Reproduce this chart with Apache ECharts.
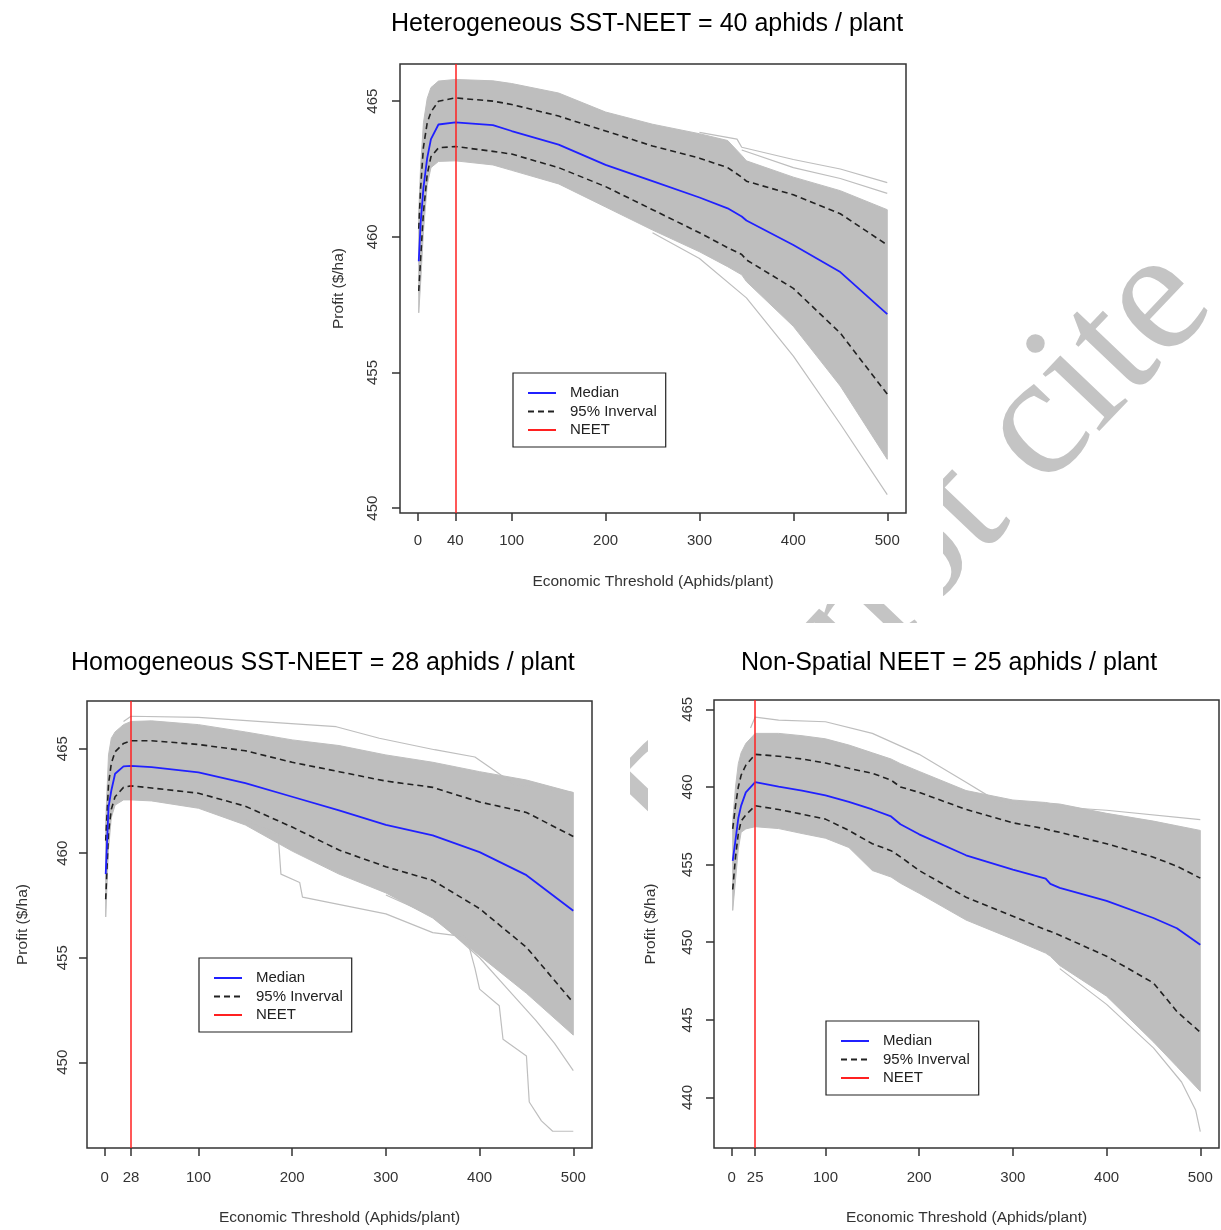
<!DOCTYPE html>
<html><head><meta charset="utf-8">
<script src="https://cdn.jsdelivr.net/npm/echarts@6/dist/echarts.min.js"></script>
<style>html,body{margin:0;padding:0;background:#fff}#c{width:1221px;height:1230px}</style>
</head><body><div id="c"></div>
<script>
// ---------- Titles / labels ----------
const panelTitles = ['Heterogeneous SST-NEET = 40 aphids / plant', 'Homogeneous SST-NEET = 28 aphids / plant', 'Non-Spatial NEET = 25 aphids / plant'];
const xAxisTitle = 'Economic Threshold (Aphids/plant)';
const yAxisTitle = 'Profit ($/ha)';
const legendNames = ['Median', '95% Inverval', 'NEET'];
const watermarkText = 'Do not cite';

// ---------- Heterogeneous SST ----------
const heteroNEET = 40;
const heteroXTicks = [0, 40, 100, 200, 300, 400, 500];
const heteroYTicks = [450, 455, 460, 465];
const heteroX = [1, 3, 6, 10, 14, 22, 40, 80, 100, 150, 200, 250, 300, 330, 345, 350, 400, 450, 500];
const heteroMedian = [459.1, 460.5, 461.8, 462.9, 463.6, 464.14, 464.22, 464.12, 463.9, 463.4, 462.65, 462.05, 461.45, 461.05, 460.75, 460.6, 459.7, 458.7, 457.15];
const heteroUpper = [460.3, 461.8, 463.3, 464.2, 464.6, 465.0, 465.12, 465.0, 464.88, 464.45, 463.9, 463.35, 462.9, 462.55, 462.2, 462.05, 461.55, 460.85, 459.7];
const heteroLower = [458.0, 459.2, 460.9, 462.3, 462.95, 463.28, 463.33, 463.15, 463.05, 462.55, 461.85, 461.0, 460.15, 459.6, 459.35, 459.15, 458.1, 456.45, 454.2];
const heteroSimMax = [460.9, 462.6, 464.2, 465.1, 465.5, 465.74, 465.8, 465.75, 465.65, 465.3, 464.6, 464.15, 463.8, 463.55, 463.0, 462.8, 462.2, 461.7, 461.0];
const heteroSimMin = [457.2, 458.3, 460.2, 461.9, 462.55, 462.78, 462.8, 462.65, 462.45, 461.95, 461.1, 460.25, 459.45, 458.9, 458.6, 458.35, 456.7, 454.5, 451.8];
const heteroSimLow = [[250, 460.15], [300, 459.2], [350, 457.75], [400, 455.6], [450, 453.1], [500, 450.5]];
const heteroSimHigh = [[300, 463.85], [340, 463.6], [345, 463.3], [400, 462.85], [450, 462.5], [500, 462.0]];
const heteroSimHigh2 = [[345, 463.2], [400, 462.55], [450, 462.15], [500, 461.6]];

// ---------- Homogeneous SST ----------
const homogNEET = 28;
const homogXTicks = [0, 28, 100, 200, 300, 400, 500];
const homogYTicks = [450, 455, 460, 465];
const homogX = [1, 4, 7, 11, 20, 28, 50, 100, 150, 200, 250, 300, 350, 400, 450, 500];
const homogMedian = [459.0, 462.2, 463.0, 463.8, 464.15, 464.18, 464.12, 463.87, 463.35, 462.7, 462.05, 461.35, 460.85, 460.05, 458.95, 457.25];
const homogUpper = [460.6, 463.3, 464.3, 464.85, 465.25, 465.38, 465.38, 465.2, 464.9, 464.35, 463.9, 463.45, 463.15, 462.45, 461.95, 460.8];
const homogLower = [457.8, 461.0, 462.1, 462.7, 463.15, 463.22, 463.12, 462.87, 462.25, 461.25, 460.15, 459.35, 458.7, 457.35, 455.5, 452.85];
const homogSimMax = [461.5, 464.7, 465.5, 465.8, 466.15, 466.3, 466.33, 466.15, 465.8, 465.42, 465.15, 464.7, 464.35, 463.9, 463.5, 462.9];
const homogSimMin = [456.95, 460.2, 461.7, 462.3, 462.55, 462.55, 462.5, 462.15, 461.35, 460.1, 459.0, 458.1, 456.9, 455.1, 453.3, 451.3];
const homogSimLow = [[150, 461.6], [185, 460.9], [188, 459.0], [208, 458.6], [211, 457.9], [300, 457.1], [350, 456.2], [386, 456.0], [395, 454.5], [400, 453.5], [421, 452.7], [425, 451.1], [450, 450.3], [453, 448.1], [466, 447.2], [478, 446.7], [500, 446.7]];
const homogSimLow2 = [[300, 458.0], [350, 457.0], [400, 455.0], [430, 453.5], [460, 452.0], [480, 450.9], [500, 449.6]];
const homogSimHigh = [[20, 466.3], [28, 466.55], [100, 466.5], [183, 466.25], [247, 466.05], [293, 465.5], [352, 464.95], [395, 464.6], [437, 463.3], [500, 462.9]];

// ---------- Non-Spatial ----------
const nsNEET = 25;
const nsXTicks = [0, 25, 100, 200, 300, 400, 500];
const nsYTicks = [440, 445, 450, 455, 460, 465];
const nsX = [1, 4, 7, 10, 15, 25, 50, 75, 100, 125, 150, 170, 180, 200, 250, 300, 335, 340, 350, 400, 450, 475, 500];
const nsMedian = [455.24, 456.6, 458.0, 458.8, 459.65, 460.31, 460.02, 459.77, 459.46, 459.04, 458.55, 458.1, 457.6, 456.95, 455.6, 454.67, 454.1, 453.76, 453.5, 452.66, 451.56, 450.9, 449.84];
const nsUpper = [457.3, 458.8, 460.0, 460.76, 461.4, 462.1, 461.98, 461.8, 461.54, 461.2, 460.88, 460.44, 460.0, 459.65, 458.55, 457.69, 457.3, 457.2, 457.08, 456.34, 455.48, 454.9, 454.13];
const nsLower = [453.4, 455.5, 457.0, 457.8, 458.2, 458.79, 458.55, 458.25, 457.93, 457.2, 456.34, 455.9, 455.5, 454.62, 452.9, 451.68, 450.8, 450.7, 450.45, 449.1, 447.38, 445.54, 444.2];
const nsSimMax = [457.8, 460.0, 461.5, 462.2, 462.8, 463.45, 463.45, 463.3, 463.1, 462.7, 462.2, 461.8, 461.5, 461.0, 459.77, 459.16, 459.0, 458.95, 458.9, 458.3, 457.8, 457.5, 457.2];
const nsSimMin = [452.05, 454.0, 456.0, 457.08, 457.3, 457.44, 457.32, 457.0, 456.7, 456.1, 454.62, 454.2, 453.8, 453.15, 451.43, 450.2, 449.3, 449.1, 448.5, 446.53, 443.58, 442.0, 440.4];
const nsSimHigh = [[20, 463.8], [25, 464.5], [50, 464.3], [100, 464.2], [150, 463.45], [200, 462.1], [250, 460.3], [280, 459.2], [300, 458.9], [400, 458.5], [500, 457.9]];
const nsSimLow = [[350, 448.3], [400, 446.0], [450, 443.2], [480, 441.0], [495, 439.2], [500, 437.8]];

// ---------- Styles / layout ----------
const FONT = '"Liberation Sans", Arial, sans-serif';
const GRAY = '#bebebe';
const grids = [
  {left: 400, top: 64, width: 506, height: 449},
  {left: 87, top: 701, width: 505, height: 447},
  {left: 714, top: 700, width: 505, height: 448}
];
const yRanges = [[449.82, 466.37], [445.9, 467.28], [436.75, 465.6]];
const xRange = [-18.96, 519.96];
const yLabelMargin = [20, 17, 19];
const yNameGap = [53, 56, 55];
const xLabelMargin = [20, 22, 22];
const xNameGap = [61, 62, 62];

const panels = [
  {X: heteroX, med: heteroMedian, up: heteroUpper, lo: heteroLower, smax: heteroSimMax, smin: heteroSimMin, extra: [heteroSimLow, heteroSimHigh, heteroSimHigh2], neet: heteroNEET, xt: heteroXTicks, yt: heteroYTicks},
  {X: homogX, med: homogMedian, up: homogUpper, lo: homogLower, smax: homogSimMax, smin: homogSimMin, extra: [homogSimLow, homogSimLow2, homogSimHigh], neet: homogNEET, xt: homogXTicks, yt: homogYTicks},
  {X: nsX, med: nsMedian, up: nsUpper, lo: nsLower, smax: nsSimMax, smin: nsSimMin, extra: [nsSimHigh, nsSimLow], neet: nsNEET, xt: nsXTicks, yt: nsYTicks}
];

const xAxes = [], yAxes = [], series = [];
panels.forEach((p, i) => {
  xAxes.push({
    type: 'value', gridIndex: i, min: xRange[0], max: xRange[1],
    axisLine: {show: false, onZero: false}, splitLine: {show: false},
    axisTick: {show: true, length: 8, customValues: p.xt, lineStyle: {color: '#333', width: 1.5}},
    axisLabel: {customValues: p.xt, margin: xLabelMargin[i], fontSize: 15, color: '#333', fontFamily: FONT},
    name: xAxisTitle, nameLocation: 'middle', nameGap: xNameGap[i], nameMoveOverlap: false,
    nameTextStyle: {fontSize: 15.5, color: '#333', fontFamily: FONT}
  });
  yAxes.push({
    type: 'value', gridIndex: i, min: yRanges[i][0], max: yRanges[i][1],
    axisLine: {show: false, onZero: false}, splitLine: {show: false},
    axisTick: {show: true, length: 8, customValues: p.yt, lineStyle: {color: '#333', width: 1.5}},
    axisLabel: {customValues: p.yt, rotate: 90, margin: yLabelMargin[i], fontSize: 15, color: '#333', fontFamily: FONT},
    name: yAxisTitle, nameLocation: 'middle', nameRotate: 90, nameGap: yNameGap[i], nameMoveOverlap: false,
    nameTextStyle: {fontSize: 15.5, color: '#333', fontFamily: FONT}
  });
  // envelope of the simulated profit curves
  series.push({
    type: 'custom', xAxisIndex: i, yAxisIndex: i, silent: true, z: 2,
    data: p.X.map((x, k) => [x, p.smax[k], p.smin[k]]),
    encode: {x: 0, y: [1, 2]},
    renderItem: function (params, api) {
      if (params.dataIndex !== 0) return null;
      const pts = [];
      for (let k = 0; k < p.X.length; k++) pts.push(api.coord([p.X[k], p.smax[k]]));
      for (let k = p.X.length - 1; k >= 0; k--) pts.push(api.coord([p.X[k], p.smin[k]]));
      return {type: 'polygon', shape: {points: pts}, style: {fill: GRAY, stroke: GRAY, lineWidth: 1}};
    }
  });
  p.extra.forEach(line => {
    series.push({type: 'line', xAxisIndex: i, yAxisIndex: i, data: line, symbol: 'none', silent: true, z: 2,
      lineStyle: {color: GRAY, width: 1.2}});
  });
  series.push({name: '95% Inverval', type: 'line', xAxisIndex: i, yAxisIndex: i, data: p.X.map((x, k) => [x, p.up[k]]),
    symbol: 'none', silent: true, z: 3, itemStyle: {color: '#222'}, lineStyle: {color: '#222', width: 1.6, type: [6, 4]}});
  series.push({name: '95% Inverval', type: 'line', xAxisIndex: i, yAxisIndex: i, data: p.X.map((x, k) => [x, p.lo[k]]),
    symbol: 'none', silent: true, z: 3, itemStyle: {color: '#222'}, lineStyle: {color: '#222', width: 1.6, type: [6, 4]}});
  series.push({name: 'Median', type: 'line', xAxisIndex: i, yAxisIndex: i, data: p.X.map((x, k) => [x, p.med[k]]),
    symbol: 'none', silent: true, z: 4, itemStyle: {color: '#2020ff'}, lineStyle: {color: '#2020ff', width: 1.8}});
  series.push({name: 'NEET', type: 'line', xAxisIndex: i, yAxisIndex: i, data: [], symbol: 'none', silent: true, z: 5,
    itemStyle: {color: '#ff2020'}, lineStyle: {color: '#ff2020', width: 1.5},
    markLine: {silent: true, symbol: ['none', 'none'], label: {show: false},
      lineStyle: {color: '#ff2020', width: 1.5, type: 'solid'}, data: [{xAxis: p.neet}]}});
});

const legendPos = [{left: 513, top: 373}, {left: 199, top: 958}, {left: 826, top: 1021}];
const legends = legendPos.map(pos => ({
  data: legendNames, orient: 'vertical', left: pos.left, top: pos.top,
  padding: [11, 9, 8, 14], itemWidth: 28, itemHeight: 14, itemGap: 0.5,
  borderColor: '#222', borderWidth: 1.2, backgroundColor: '#fff', selectedMode: false, z: 10,
  itemStyle: {opacity: 0, borderWidth: 0},
  textStyle: {fontSize: 15, color: '#222', fontFamily: FONT, lineHeight: 18, padding: [0, 0, 0, 9]}
}));

const titlePos = [{left: 391, top: 11.5}, {left: 71, top: 651}, {left: 741, top: 651}];
const titles = titlePos.map((pos, i) => ({
  text: panelTitles[i], left: pos.left, top: pos.top, padding: 0,
  textStyle: {fontSize: 25, fontWeight: 'normal', color: '#000', fontFamily: FONT}
}));

const graphics = [
  {type: 'text', x: 916, y: 557, rotation: 0.81, z: -10, silent: true,
    style: {text: watermarkText, x: 0, y: 0, align: 'center', verticalAlign: 'middle',
      font: '175px "Liberation Serif", "Times New Roman", serif', fill: '#c4c4c4'}},
  {type: 'rect', shape: {x: 328, y: 0, width: 615, height: 604}, style: {fill: '#fff'}, z: -5, silent: true},
  {type: 'rect', shape: {x: 0, y: 622, width: 630, height: 608}, style: {fill: '#fff'}, z: -5, silent: true},
  {type: 'rect', shape: {x: 648, y: 623, width: 573, height: 607}, style: {fill: '#fff'}, z: -5, silent: true}
];

const chart = echarts.init(document.getElementById('c'), null, {renderer: 'canvas'});
chart.setOption({
  animation: false,
  backgroundColor: '#fff',
  title: titles,
  legend: legends,
  grid: grids.map(g => Object.assign({show: true, borderColor: '#333', borderWidth: 1.5, backgroundColor: 'transparent'}, g)),
  xAxis: xAxes,
  yAxis: yAxes,
  graphic: {elements: graphics},
  series: series
});
</script></body></html>
